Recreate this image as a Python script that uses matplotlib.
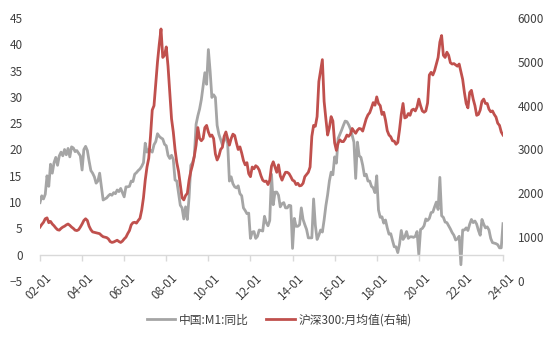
import numpy as np
import matplotlib
matplotlib.use("Agg")
import matplotlib.pyplot as plt
import matplotlib.transforms as mtrans

plt.rcParams['font.family'] = ['Noto Sans CJK SC', 'DejaVu Sans']

# 月度数据 2002-01 ~ 2024-01
m1_yoy = [
    9.9, 11.2, 10.6, 11.5, 15.0, 13.0, 17.2, 15.5, 17.5, 18.5, 17.0, 18.8,   # 2002
    19.5, 18.8, 20.0, 19.0, 20.2, 18.6, 20.5, 20.3, 19.6, 19.8, 19.3, 18.8,  # 2003
    16.1, 20.0, 20.6, 19.8, 17.8, 16.0, 15.5, 14.8, 13.6, 14.0, 15.5, 12.9,  # 2004
    10.4, 10.6, 10.8, 11.2, 11.5, 11.3, 11.8, 11.6, 12.3, 12.0, 12.6, 11.8,  # 2005
    11.0, 12.9, 12.9, 13.0, 14.0, 13.9, 15.3, 15.6, 16.0, 16.3, 16.8, 17.5,  # 2006
    21.2, 19.5, 20.0, 19.8, 19.5, 20.9, 21.5, 23.0, 22.5, 22.2, 22.0, 21.0,  # 2007
    20.7, 18.9, 18.3, 18.9, 18.1, 14.2, 14.0, 11.7, 9.4, 8.9, 6.8, 9.1,      # 2008
    6.7, 10.9, 17.0, 17.5, 18.7, 24.8, 26.4, 27.7, 29.5, 32.0, 34.6, 32.4,   # 2009
    39.0, 34.9, 29.9, 30.4, 29.9, 24.6, 22.9, 21.9, 20.9, 22.1, 22.1, 21.2,  # 2010
    14.0, 14.8, 13.5, 12.9, 12.7, 13.1, 11.6, 11.2, 8.9, 8.4, 7.8, 7.9,      # 2011
    3.1, 4.3, 4.4, 3.1, 3.5, 4.7, 4.6, 4.5, 7.3, 6.1, 5.5, 6.5,              # 2012
    15.3, 9.5, 11.9, 11.9, 11.3, 9.1, 9.7, 9.9, 8.9, 8.9, 9.4, 9.3,          # 2013
    1.2, 6.9, 5.4, 5.4, 5.7, 8.9, 6.7, 5.7, 4.8, 3.2, 3.2, 3.2,              # 2014
    10.6, 5.6, 2.9, 3.7, 4.7, 4.3, 6.6, 9.3, 11.4, 14.0, 15.7, 15.2,         # 2015
    18.6, 17.4, 22.1, 22.9, 23.7, 24.6, 25.4, 25.3, 24.7, 23.9, 22.7, 21.4,  # 2016
    14.5, 21.4, 18.8, 18.5, 17.0, 15.0, 15.3, 14.0, 14.0, 13.0, 12.7, 11.8,  # 2017
    15.0, 8.5, 7.1, 7.2, 6.0, 6.6, 5.1, 3.9, 4.0, 2.7, 1.5, 1.5,             # 2018
    0.4, 2.0, 4.6, 2.9, 3.4, 4.4, 3.1, 3.4, 3.4, 3.3, 3.5, 4.4,              # 2019
    0.0, 4.8, 5.0, 5.5, 6.8, 6.5, 6.9, 8.0, 8.1, 9.1, 10.0, 8.6,             # 2020
    14.7, 7.4, 7.1, 6.2, 6.1, 5.5, 4.9, 4.2, 3.7, 2.8, 3.0, 3.5,             # 2021
    -1.9, 4.7, 4.7, 5.1, 4.6, 5.8, 6.7, 6.1, 6.4, 5.8, 4.6, 3.7,             # 2022
    6.7, 5.8, 5.1, 5.3, 4.7, 3.1, 2.3, 2.2, 2.1, 1.9, 1.3, 1.3,              # 2023
    5.9,                                                                     # 2024
]

hs300_avg = [
    1230, 1290, 1340, 1420, 1440, 1330, 1360, 1300, 1260, 1210, 1170, 1160,  # 2002
    1200, 1230, 1250, 1280, 1300, 1270, 1230, 1200, 1160, 1150, 1170, 1230,  # 2003
    1300, 1380, 1420, 1380, 1250, 1170, 1120, 1110, 1100, 1090, 1080, 1040,  # 2004
    1010, 1000, 990, 960, 900, 880, 890, 910, 930, 900, 880, 910,            # 2005
    960, 1000, 1080, 1150, 1280, 1330, 1340, 1320, 1380, 1430, 1620, 1900,   # 2006
    2300, 2600, 2800, 3300, 3900, 4000, 4500, 5000, 5400, 5750, 5100, 5150,  # 2007
    5340, 4900, 4300, 3700, 3400, 3000, 2700, 2500, 2200, 1900, 1850, 1950,  # 2008
    2000, 2300, 2500, 2650, 2850, 3100, 3500, 3250, 3200, 3250, 3500, 3550,  # 2009
    3400, 3300, 3330, 3250, 2900, 2760, 2850, 3000, 3050, 3300, 3400, 3250,  # 2010
    3100, 3250, 3350, 3320, 3150, 3000, 3060, 2920, 2750, 2650, 2700, 2450,  # 2011
    2380, 2600, 2560, 2630, 2600, 2530, 2400, 2300, 2270, 2280, 2200, 2300,  # 2012
    2620, 2720, 2600, 2480, 2650, 2400, 2300, 2400, 2480, 2480, 2450, 2380,  # 2013
    2300, 2280, 2200, 2230, 2170, 2180, 2230, 2380, 2430, 2480, 2600, 3300,  # 2014
    3550, 3530, 3750, 4550, 4800, 5050, 4100, 3700, 3330, 3500, 3750, 3650,  # 2015
    3150, 2980, 3150, 3220, 3180, 3180, 3240, 3330, 3300, 3350, 3480, 3420,  # 2016
    3370, 3440, 3480, 3470, 3420, 3560, 3700, 3790, 3840, 3950, 4070, 4010,  # 2017
    4200, 4050, 4000, 3800, 3850, 3670, 3430, 3330, 3290, 3200, 3190, 3120,  # 2018
    3160, 3450, 3800, 4050, 3720, 3740, 3820, 3780, 3900, 3920, 3880, 3970,  # 2019
    4150, 4000, 3880, 3850, 3880, 4060, 4700, 4760, 4700, 4800, 4950, 5100,  # 2020
    5450, 5600, 5150, 5100, 5220, 5150, 4980, 4950, 4960, 4930, 4900, 4950,  # 2021
    4780, 4600, 4300, 4050, 3950, 4300, 4350, 4150, 4000, 3780, 3800, 3900,  # 2022
    4100, 4150, 4050, 4050, 3920, 3860, 3880, 3800, 3740, 3600, 3550, 3400,  # 2023
    3330,                                                                    # 2024
]

x_labels = ['02-01', '04-01', '06-01', '08-01', '10-01', '12-01',
            '14-01', '16-01', '18-01', '20-01', '22-01', '24-01']

gray = '#A5A5A5'
red = '#C0504D'
txt = '#404040'
fs = 8.5

x = np.arange(len(m1_yoy))

fig = plt.figure(figsize=(5.53, 3.41), dpi=100)
ax = fig.add_axes([40 / 553, 60 / 341, 463 / 553, 263 / 341])
ax2 = ax.twinx()

l1, = ax.plot(x, m1_yoy, color=gray, lw=2.0, label='中国:M1:同比')
l2, = ax2.plot(x, hs300_avg, color=red, lw=2.0, label='沪深300:月均值(右轴)')

ax.set_xlim(0, len(x) - 1)
ax.set_ylim(-5, 45)
ax.set_yticks(np.arange(-5, 46, 5))
ax2.set_ylim(0, 6000)
ax2.set_yticks(np.arange(0, 6001, 1000))

for a in (ax, ax2):
    for s in ('top', 'left', 'right', 'bottom'):
        a.spines[s].set_visible(False)
    a.tick_params(axis='y', length=0, labelsize=fs, labelcolor=txt)

ax.tick_params(axis='y', pad=12.5)
ax2.tick_params(axis='y', pad=10.5)

# x 轴线位于 0 处
ax.spines['bottom'].set_visible(True)
ax.spines['bottom'].set_position(('data', 0))
ax.spines['bottom'].set_color('#D9D9D9')
ax.spines['bottom'].set_linewidth(1.0)
ax.set_xticks(np.arange(0, len(x), 24))
ax.set_xticklabels(x_labels, rotation=45, ha='right', rotation_mode='anchor')
ax.tick_params(axis='x', length=4, width=1.0, color='#D9D9D9',
               labelsize=fs, labelcolor=txt, pad=8)
shift = mtrans.ScaledTranslation(5 / 100, 0, fig.dpi_scale_trans)
for lab in ax.get_xticklabels():
    lab.set_transform(lab.get_transform() + shift)

fig.legend(handles=[l1, l2], loc='center', bbox_to_anchor=(0.505, 21 / 341),
           ncol=2, frameon=False, fontsize=fs, handlelength=2.4,
           columnspacing=1.5, handletextpad=0.3, labelcolor=txt)

fig.savefig('out.png', dpi=100)
